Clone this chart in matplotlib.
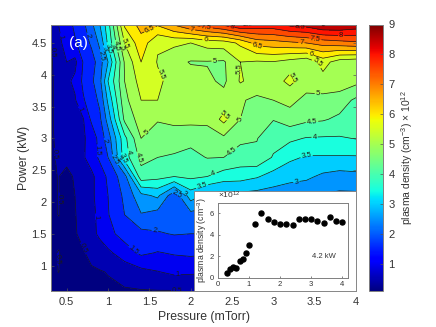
import numpy as np
import matplotlib
matplotlib.use("Agg")
import matplotlib.pyplot as plt
from matplotlib.colors import Normalize
from matplotlib.cm import ScalarMappable
from matplotlib.patches import Rectangle
from matplotlib.ticker import FormatStrFormatter

plt.rcParams["font.family"] = ["Liberation Sans", "DejaVu Sans"]
plt.rcParams["mathtext.default"] = "regular"

# pressure (mTorr) of the scan, same for map and inset
pressure = [0.3, 0.4, 0.5, 0.6, 0.7, 0.8, 0.9, 1.0, 1.2, 1.4, 1.6, 1.8, 2.0,
            2.2, 2.4, 2.6, 2.8, 3.0, 3.2, 3.4, 3.6, 3.8, 4.0]
power = [0.6, 0.9, 1.2, 1.5, 1.8, 2.1, 2.4, 2.7, 3.0, 3.3, 3.6, 3.9, 4.2, 4.5, 4.8]

# density in 1e12 cm-3, one list per power
n_06 = [.30, .35, .35, .35, .35, .38, .40, .42, .45, .47, .48, .48, .52, .55, .55, .55, .55, .55, .55, .55, .55, .55, .55]
n_09 = [.42, .505, .42, .42, .43, .45, .47, .52, .70, .85, .98, 1.1, 1.07, 1.05, 1.05, 1.05, 1.0, 1.0, 1.0, 1.0, .98, .95, .95]
n_12 = [.45, .51, .45, .45, .47, .60, .75, .90, 1.25, 1.6, 1.47, 1.55, 1.6, 1.55, 1.5, 1.5, 1.45, 1.45, 1.4, 1.4, 1.4, 1.35, 1.35]
n_15 = [.45, .45, .45, .47, .60, .85, 1.1, 1.35, 1.7, 1.85, 1.95, 2.03, 2.0, 2.0, 1.95, 1.95, 1.9, 1.9, 1.9, 1.85, 1.85, 1.8, 1.8]
n_18 = [.45, .505, .45, .48, .65, .85, 1.15, 1.47, 2.0, 2.47, 2.3, 2.1, 2.35, 2.3, 2.3, 2.3, 2.3, 2.3, 2.3, 2.25, 2.2, 2.2, 2.2]
n_21 = [.45, .505, .45, .50, .70, .90, 1.2, 1.5, 2.1, 2.85, 3.1, 2.15, 3.25, 2.85, 2.8, 2.85, 2.8, 2.75, 2.7, 2.6, 2.45, 2.4, 2.4]
n_24 = [.47, .505, .45, .52, .65, .90, 1.2, 1.6, 2.3, 4.3, 4.15, 4.0, 4.1, 4.0, 3.75, 3.7, 3.55, 3.3, 3.15, 3.1, 2.9, 2.8, 2.85]
n_27 = [.38, .58, .55, .80, .95, 1.2, 1.6, 2.0, 3.75, 4.65, 4.5, 4.45, 4.35, 4.52, 4.5, 4.3, 4.4, 3.95, 3.6, 3.45, 3.45, 3.45, 3.45]
n_30 = [.38, .65, .80, .85, .95, 1.15, 1.7, 2.25, 3.85, 5.0, 4.7, 4.7, 4.65, 4.8, 4.9, 4.6, 4.52, 4.2, 4.1, 3.97, 3.95, 3.95, 4.02]
n_33 = [.38, .70, .85, .90, .97, 1.6, 1.9, 2.7, 4.6, 5.25, 5.05, 5.15, 5.15, 5.1, 5.65, 5.0, 4.7, 4.52, 4.75, 4.6, 4.55, 4.4, 4.2]
n_36 = [.38, .70, .85, .95, 1.45, 1.75, 2.1, 3.1, 4.85, 5.5, 5.5, 5.3, 5.3, 5.3, 5.2, 5.05, 4.9, 5.0, 5.15, 4.85, 4.85, 4.75, 4.4]
n_39 = [.38, .70, .90, 1.1, 1.6, 1.9, 2.35, 3.5, 5.0, 5.7, 5.6, 5.3, 5.2, 5.1, 4.9, 5.55, 5.3, 5.3, 5.62, 5.25, 5.3, 5.3, 5.15]
n_42 = [.40, .75, 1.0, .87, 1.53, 1.75, 2.28, 3.0, 5.05, 6.0, 5.47, 5.15, 4.97, 4.97, 4.94, 5.5, 5.44, 5.47, 5.3, 5.12, 5.7, 5.25, 5.15]
n_45 = [.40, .90, 1.15, 1.45, 1.7, 2.1, 2.6, 3.6, 5.5, 6.3, 5.55, 5.6, 5.5, 5.7, 5.75, 6.1, 6.7, 6.8, 6.9, 7.0, 7.2, 7.3, 7.4]
n_48 = [.60, 1.0, 1.3, 1.6, 1.9, 2.4, 3.0, 3.8, 6.1, 6.7, 6.6, 7.1, 7.6, 7.9, 8.2, 8.6, 8.4, 8.4, 8.7, 8.8, 9.1, 9.1, 8.9]

density = np.array([n_06, n_09, n_12, n_15, n_18, n_21, n_24, n_27, n_30, n_33,
                    n_36, n_39, n_42, n_45, n_48])

levels = np.arange(0, 10, 0.5)

# where the contour labels sit, by level
label_spots = {
    0.5: [(.33, 4.36), (.33, 2.75), (.4, 2.05), (.4, 1.1), (.73, 1.29), (1.84, .66)],
    1: [(.41, 4.6), (.64, 3.45), (.86, 1.77), (1.84, .85)],
    1.5: [(.77, 2.8), (1.3, 1.23)],
    2: [(.72, 4.6), (.95, 2.96), (1.56, 1.5)],
    2.5: [(.92, 4.3), (1.07, 2.65), (1.85, 2.15)],
    3: [(.97, 4.42), (1.13, 2.7), (1.96, 2.2), (3.28, 2.3)],
    3.5: [(1.02, 4.42), (1.2, 2.7), (2.14, 2.24), (3.4, 2.76)],
    4: [(1.07, 4.45), (1.28, 2.8), (2.29, 2.4), (3.5, 3.0)],
    4.5: [(1.1, 4.45), (1.36, 2.69), (2.47, 2.85), (3.47, 3.22)],
    5: [(1.17, 4.43), (1.46, 3.1), (2.29, 4.2), (2.61, 3.3), (3.54, 3.75)],
    5.5: [(1.23, 4.5), (1.64, 4.0), (2.59, 4.1), (2.41, 3.36), (3.24, 3.95), (3.52, 4.18)],
    6: [(2.18, 4.56), (3.46, 4.35)],
    6.5: [(1.52, 4.68), (2.8, 4.45)],
    7: [(2.02, 4.72), (3.34, 4.53)],
    7.5: [(2.19, 4.74), (3.51, 4.6)],
    8: [(2.5, 4.77), (3.82, 4.64)],
    8.5: [(2.7, 4.75), (3.32, 4.72)],
    9: [(3.59, 4.74)],
}

W, H = 436, 327
GREY = "#7f7f7f"
TEXT = "#333333"


def px_axes(fig, x0, y0, x1, y1):
    # axes from pixel box, y counted from the top like in the image
    return fig.add_axes([x0 / W, 1 - y1 / H, (x1 - x0) / W, (y1 - y0) / H])


def style_axes(ax, size):
    for side in ax.spines.values():
        side.set_color(GREY)
        side.set_linewidth(0.7)
    ax.tick_params(direction="in", length=2, width=0.5, color="#555555",
                   labelcolor=TEXT, labelsize=size, pad=4)


fig = plt.figure(figsize=(W / 100, H / 100), dpi=100)

# main map
ax = px_axes(fig, 51, 24.5, 356, 291)
norm = Normalize(0.1, 9)
fill_colors = [plt.cm.jet(norm(lv)) for lv in levels[:-1]]
ax.contourf(pressure, power, density, levels=levels, colors=fill_colors)
# one contour set per level, clabel with manual spots wants it that way
for lv, spots in label_spots.items():
    cs = ax.contour(pressure, power, density, levels=[lv], colors="#1a1a1a", linewidths=0.5)
    ax.clabel(cs, manual=spots, fontsize=5.5, fmt="%g", inline=True,
              inline_spacing=1, colors="#1a1a1a")
ax.set_xlim(0.31, 4)
ax.set_ylim(0.6, 4.79)
ax.set_xticks([0.5, 1, 1.5, 2, 2.5, 3, 3.5, 4])
ax.set_yticks([1, 1.5, 2, 2.5, 3, 3.5, 4, 4.5])
ax.xaxis.set_major_formatter(FormatStrFormatter("%g"))
ax.yaxis.set_major_formatter(FormatStrFormatter("%g"))
ax.yaxis.set_ticks_position("both")
style_axes(ax, 8)
ax.tick_params(axis="y", pad=3)
ax.set_xlabel("Pressure (mTorr)", fontsize=8.8, color=TEXT, labelpad=3)
ax.set_ylabel("Power (kW)", fontsize=8.8, color=TEXT, labelpad=1)
ax.text(0.09, 0.93, "(a)", transform=ax.transAxes, color="white", fontsize=11,
        ha="center", va="center")

# colorbar
cax = px_axes(fig, 369, 24.5, 383, 291)
cbar = fig.colorbar(ScalarMappable(norm=norm, cmap="jet"), cax=cax)
cbar.set_ticks(range(1, 10))
cbar.outline.set_edgecolor(GREY)
cbar.outline.set_linewidth(0.7)
cax.tick_params(direction="in", length=2, width=0.5, color="#555555",
                labelcolor=TEXT, labelsize=8, pad=4)
cbar.set_label(r"plasma density (cm$^{-3}$) $\times$ 10$^{12}$", fontsize=7.5,
               color=TEXT, labelpad=3)

# white backing of the inset
fig.add_artist(Rectangle((194 / W, 1 - 291 / H), 162 / W, 100 / H, transform=fig.transFigure,
                         facecolor="white", edgecolor=GREY, linewidth=0.6, zorder=2))

# inset at 4.2 kW
inset = px_axes(fig, 217.7, 202.7, 348, 277.5)
inset.set_zorder(3)
inset.plot(pressure, n_42, "o", color="black", markersize=3.6, clip_on=False)
inset.set_xlim(0, 4.18)
inset.set_ylim(0, 7)
inset.set_xticks([0, 1, 2, 3, 4])
inset.set_yticks([0, 2, 4, 6])
style_axes(inset, 5.5)
inset.tick_params(pad=2.5, length=1.5)
inset.set_ylabel("plasma density (cm$^{-3}$)", fontsize=6.2, color=TEXT, labelpad=1)
inset.text(3.4, 2, "4.2 kW", fontsize=5.5, color=TEXT, ha="center", va="center")
inset.text(0, 7.15, r"$\times$10$^{12}$", fontsize=6, color=TEXT, ha="left", va="bottom")

fig.savefig("out.png", dpi=100)
